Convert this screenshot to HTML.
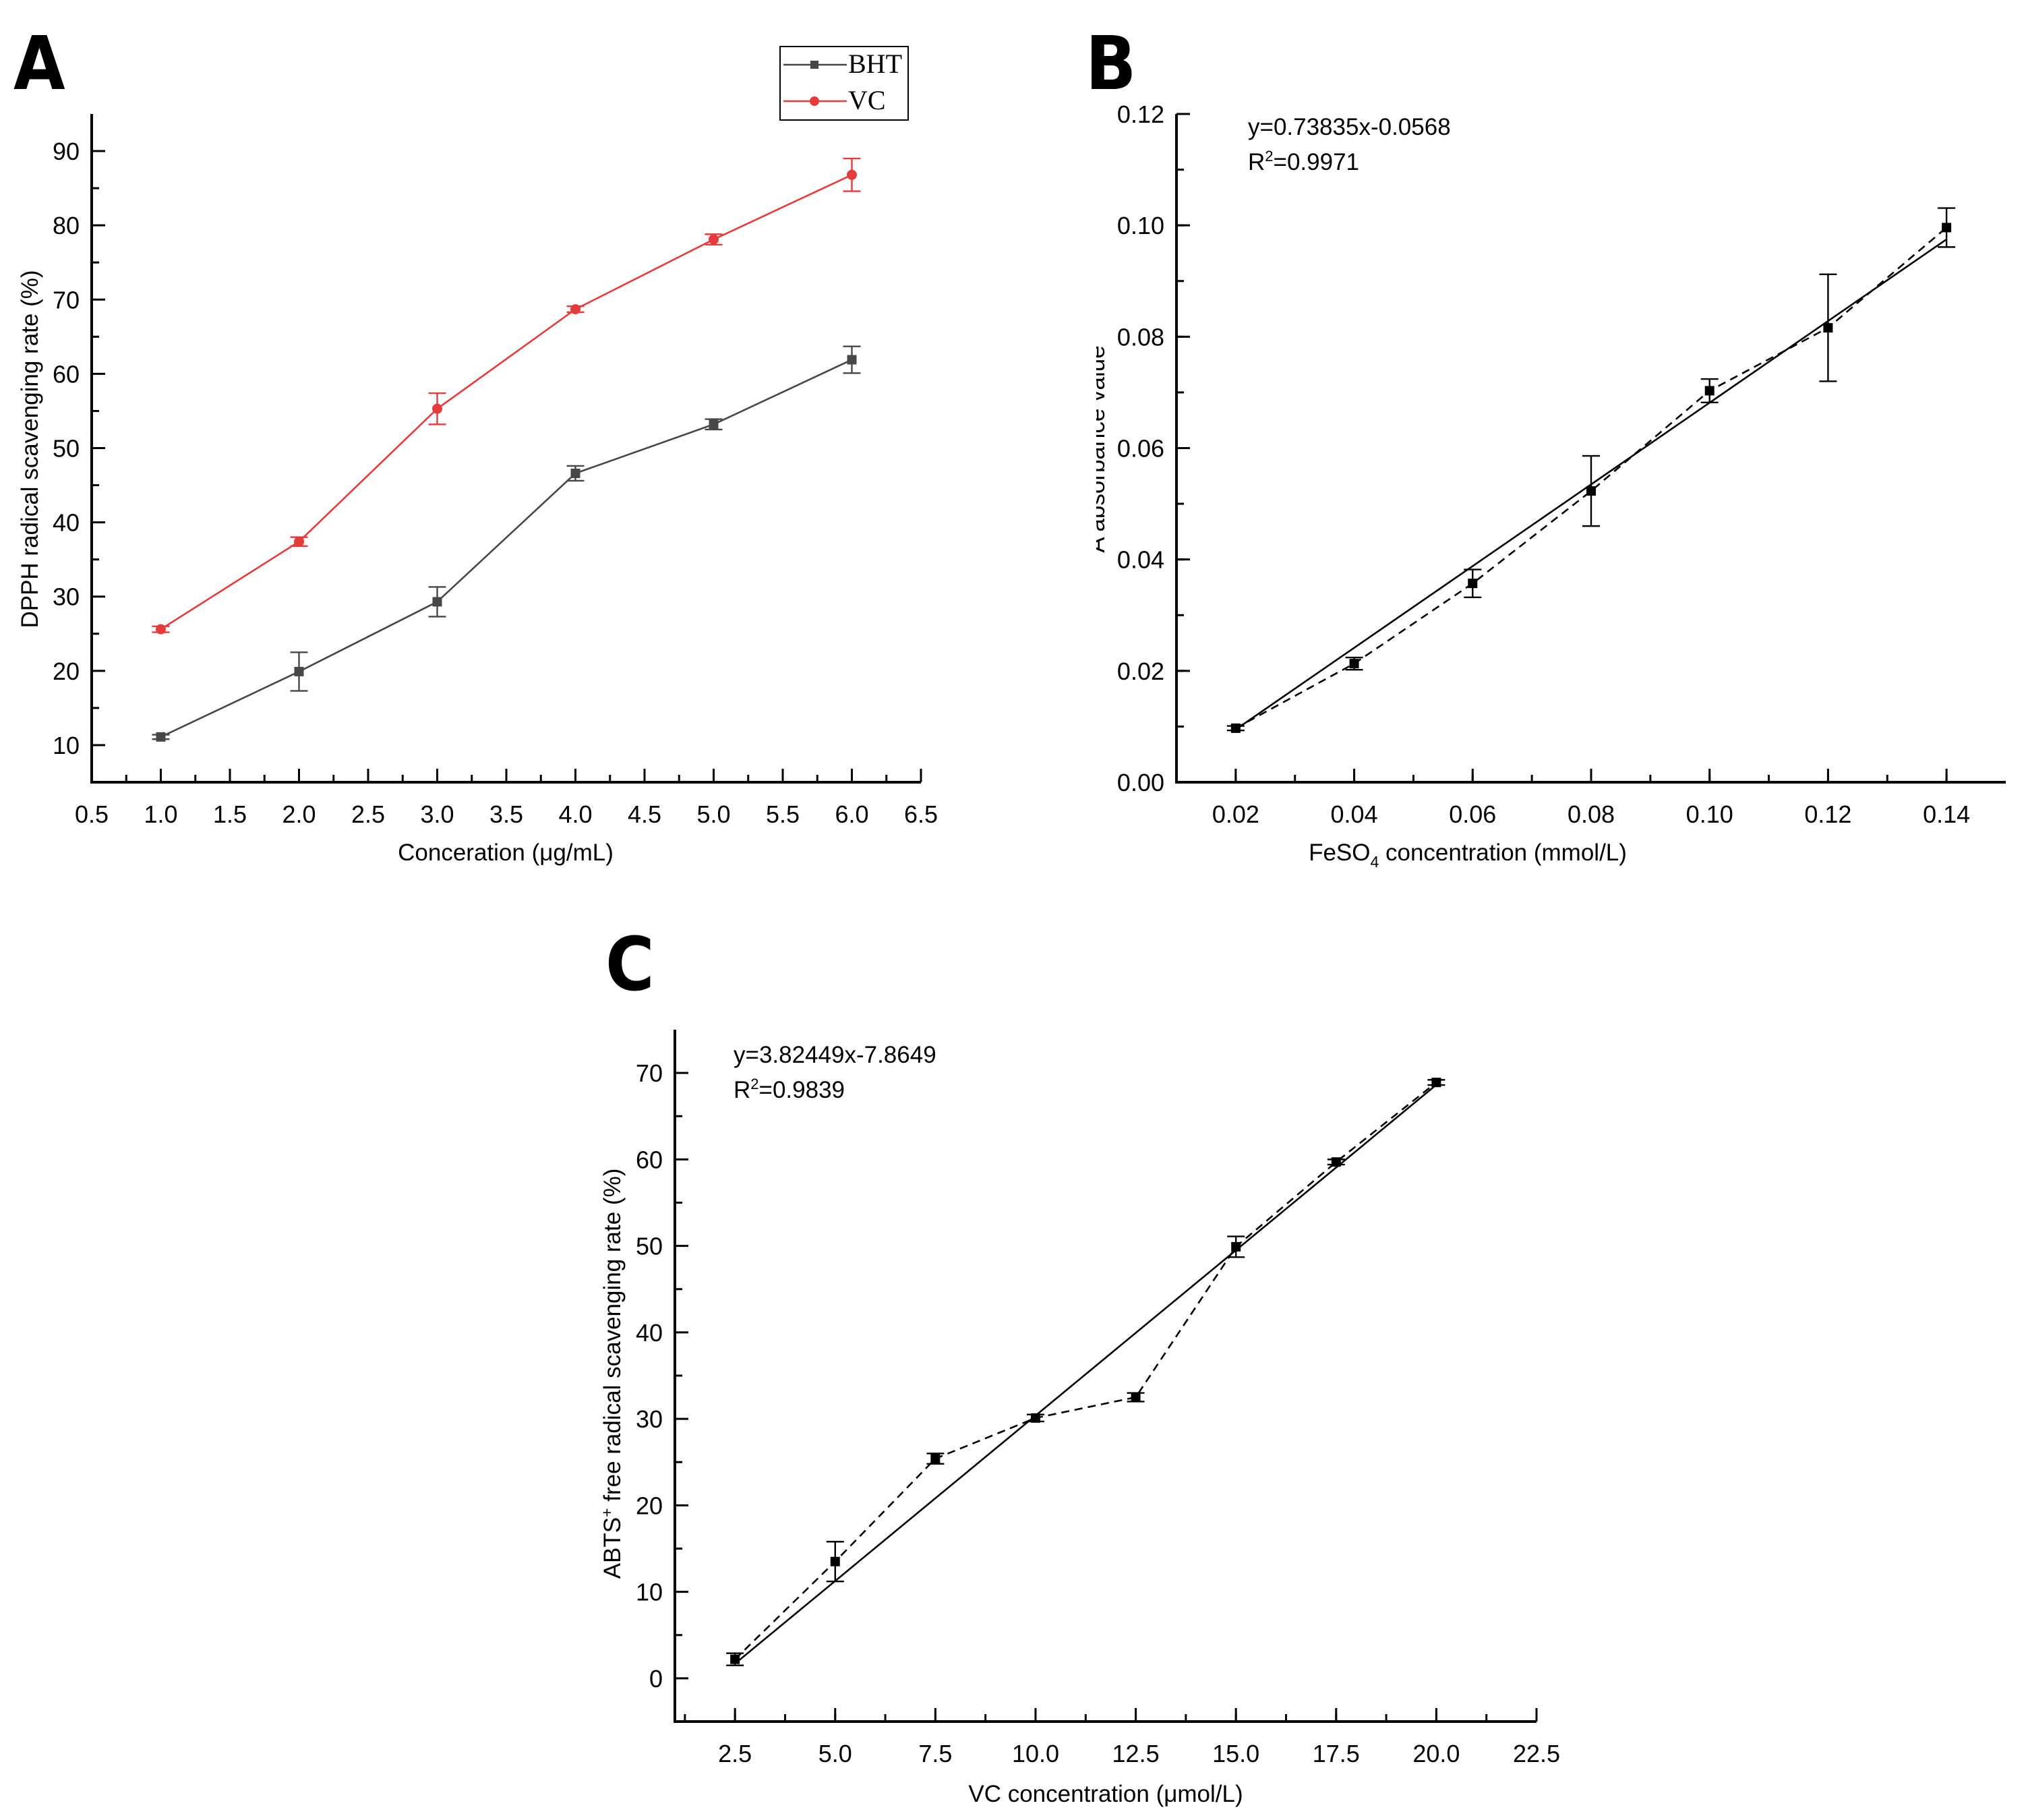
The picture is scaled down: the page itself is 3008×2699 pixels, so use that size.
<!DOCTYPE html>
<html><head><meta charset="utf-8"><style>
html,body{margin:0;padding:0;background:#fff}
svg{display:block}
text{font-family:"Liberation Sans",Arial,sans-serif}
</style></head><body>
<svg id="fig" xmlns="http://www.w3.org/2000/svg" width="3008" height="2699" viewBox="0 0 3008 2699">
<defs><clipPath id="clipB" clipPathUnits="userSpaceOnUse"><rect x="1626" y="400" width="100" height="600"/></clipPath></defs>
<text x="20" y="132" font-size="110" font-weight="bold" style="font-family:'DejaVu Sans Condensed','DejaVu Sans',sans-serif">A</text>
<text x="1610" y="132" font-size="110" font-weight="bold" style="font-family:'DejaVu Sans Condensed','DejaVu Sans',sans-serif">B</text>
<text x="898" y="1468" font-size="110" font-weight="bold" style="font-family:'DejaVu Sans Condensed','DejaVu Sans',sans-serif">C</text>
<g clip-path="url(#clipB)">
<text font-size="35" text-anchor="middle" transform="translate(1638,666) rotate(-90)">A absorbance value</text>
</g>
</svg>
<script>
// Panel A data
const aX = [1, 2, 3, 4, 5, 6];
const aBHT = [11.1, 19.9, 29.3, 46.6, 53.2, 61.9];
const aBHTErr = [0.3, 2.6, 2.0, 1.0, 0.7, 1.8];
const aVC = [25.6, 37.4, 55.3, 68.7, 78.1, 86.8];
const aVCErr = [0.4, 0.6, 2.1, 0.4, 0.7, 2.2];
const aXTicks = ["0.5","1.0","1.5","2.0","2.5","3.0","3.5","4.0","4.5","5.0","5.5","6.0","6.5"];
const aYTicks = ["10","20","30","40","50","60","70","80","90"];
// Panel B data
const bX = [0.02, 0.04, 0.06, 0.08, 0.10, 0.12, 0.14];
const bY = [0.0097, 0.0213, 0.0357, 0.0523, 0.0703, 0.0816, 0.0996];
const bErr = [0.0004, 0.0011, 0.0025, 0.0063, 0.0021, 0.0096, 0.0035];
const bFit = [0.7335, -0.0052];
const bXTicks = ["0.02","0.04","0.06","0.08","0.10","0.12","0.14"];
const bYTicks = ["0.00","0.02","0.04","0.06","0.08","0.10","0.12"];
// Panel C data
const cX = [2.5, 5, 7.5, 10, 12.5, 15, 17.5, 20];
const cY = [2.2, 13.5, 25.4, 30.1, 32.5, 49.9, 59.7, 68.9];
const cErr = [0.7, 2.3, 0.6, 0.4, 0.5, 1.2, 0.3, 0.3];
const cFit = [3.82449, -7.8649];
const cXTicks = ["2.5","5.0","7.5","10.0","12.5","15.0","17.5","20.0","22.5"];
const cYTicks = ["0","10","20","30","40","50","60","70"];

const NS = "http://www.w3.org/2000/svg";
const svg = document.getElementById('fig');
function mk(tag, attrs, parent) {
  const e = document.createElementNS(NS, tag);
  for (const k in attrs) e.setAttribute(k, attrs[k]);
  (parent || svg).appendChild(e);
  return e;
}
function axes(o) {
  const sx = v => o.x0 + (v - o.xmin) / (o.xmax - o.xmin) * (o.x1 - o.x0);
  const sy = v => o.y0 - (v - o.ymin) / (o.ymax - o.ymin) * (o.y0 - o.y1);
  const g = mk('g', {});
  
  
  const ya = mk('line', {x1:o.x0, y1:o.y0+2, x2:o.x0, y2:o.y1, stroke:'#000', 'stroke-width':4}, g);
  
  
  const xa = mk('line', {x1:o.x0-2, y1:o.y0, x2:o.x1, y2:o.y0, stroke:'#000', 'stroke-width':4}, g);
  
  
  o.xTicks.forEach(t => {
    const v = parseFloat(t), X = sx(v);
    mk('line', {x1:X, y1:o.y0, x2:X, y2:o.y0-20, stroke:'#000', 'stroke-width':3}, g);
    const tx = mk('text', {x:X, y:o.y0+60, 'font-size':36, 'text-anchor':'middle'}, g);
    tx.textContent = t;
    
    
  });
  for (let v = o.xmin + o.xminorOff; v < o.xmax; v += o.xminor) {
    mk('line', {x1:sx(v), y1:o.y0, x2:sx(v), y2:o.y0-11, stroke:'#000', 'stroke-width':3}, g);
  }
  o.yTicks.forEach(t => {
    const v = parseFloat(t), Y = sy(v);
    mk('line', {x1:o.x0, y1:Y, x2:o.x0+20, y2:Y, stroke:'#000', 'stroke-width':3}, g);
    const tx = mk('text', {x:o.x0-18, y:Y+13, 'font-size':36, 'text-anchor':'end'}, g);
    tx.textContent = t;
    
    
  });
  for (let v = o.ymin + o.yminorOff; v < o.ymax; v += o.yminor) {
    mk('line', {x1:o.x0, y1:sy(v), x2:o.x0+11, y2:sy(v), stroke:'#000', 'stroke-width':3}, g);
  }
  return {sx, sy};
}
function series(s, xs, ys, errs, color, marker, dash, name) {
  const g = mk('g', {});
  
  
  const pts = xs.map((x,i) => s.sx(x) + ',' + s.sy(ys[i])).join(' ');
  const pl = mk('polyline', {points:pts, fill:'none', stroke:color, 'stroke-width':2.6}, g);
  if (dash) pl.setAttribute('stroke-dasharray', '12,8');
  xs.forEach((x,i) => {
    const X = s.sx(x), Yt = s.sy(ys[i]+errs[i]), Yb = s.sy(ys[i]-errs[i]);
    mk('line', {x1:X, y1:Yt, x2:X, y2:Yb, stroke:color, 'stroke-width':2.4}, g);
    mk('line', {x1:X-13, y1:Yt, x2:X+13, y2:Yt, stroke:color, 'stroke-width':2.4}, g);
    mk('line', {x1:X-13, y1:Yb, x2:X+13, y2:Yb, stroke:color, 'stroke-width':2.4}, g);
    let m;
    if (marker === 'circle') m = mk('circle', {cx:X, cy:s.sy(ys[i]), r:7.5, fill:color}, g);
    else m = mk('rect', {x:X-7, y:s.sy(ys[i])-7, width:14, height:14, fill:color}, g);
    
    
  });
}
function fitLine(s, xs, fit, name) {
  const xa = xs[0], xb = xs[xs.length-1];
  const l = mk('line', {x1:s.sx(xa), y1:s.sy(fit[0]*xa+fit[1]), x2:s.sx(xb), y2:s.sy(fit[0]*xb+fit[1]), stroke:'#000', 'stroke-width':2.6});
  
  
}
function txt(x, y, size, str, name, attrs) {
  const t = mk('text', Object.assign({x:x, y:y, 'font-size':size}, attrs||{}));
  t.textContent = str;
  
  
  return t;
}

// Panel A
const sA = axes({name:'panel-a', x0:136, x1:1366, y0:1160, y1:169, xmin:0.5, xmax:6.5, ymin:5, ymax:95,
  xTicks:aXTicks, yTicks:aYTicks, xminor:0.5, xminorOff:0.25, yminor:10, yminorOff:10});
series(sA, aX, aBHT, aBHTErr, '#474747', 'square', false, 'bht-series');
series(sA, aX, aVC, aVCErr, '#e53b3b', 'circle', false, 'vc-series');
txt(750, 1276, 35, 'Conceration (μg/mL)', 'panel-a-x-axis-title', {'text-anchor':'middle'});
txt(0, 0, 35, 'DPPH radical scavenging rate (%)', 'panel-a-y-axis-title', {'text-anchor':'middle', transform:'translate(56,666) rotate(-90)'});
const lg = mk('g', {});


mk('rect', {x:1157, y:69, width:190, height:109, fill:'#fff', stroke:'#000', 'stroke-width':2}, lg);
mk('line', {x1:1162, y1:96, x2:1256, y2:96, stroke:'#474747', 'stroke-width':2.4}, lg);
mk('rect', {x:1202, y:90, width:12, height:12, fill:'#474747'}, lg);
mk('line', {x1:1162, y1:150, x2:1256, y2:150, stroke:'#e53b3b', 'stroke-width':2.4}, lg);
mk('circle', {cx:1208, cy:150, r:7, fill:'#e53b3b'}, lg);
const l1 = mk('text', {x:1258, y:108, 'font-size':40, style:"font-family:'Liberation Serif',serif"}, lg); l1.textContent = 'BHT';


const l2 = mk('text', {x:1258, y:162, 'font-size':40, style:"font-family:'Liberation Serif',serif"}, lg); l2.textContent = 'VC';



// Panel B
const sB = axes({name:'panel-b', x0:1745, x1:2975, y0:1160, y1:169, xmin:0.01, xmax:0.15, ymin:0, ymax:0.12,
  xTicks:bXTicks, yTicks:bYTicks, xminor:0.01, xminorOff:0.01, yminor:0.01, yminorOff:0.01});
fitLine(sB, bX, bFit, 'panel-b-fit-line');
series(sB, bX, bY, bErr, '#000', 'square', true, 'panel-b-series');
txt(1851, 200, 35, 'y=0.73835x-0.0568', 'panel-b-equation');
const rb = txt(1851, 252, 35, 'R', 'panel-b-r2');
const sup = mk('tspan', {dy:-13, 'font-size':22}, rb); sup.textContent = '2';
const rest = mk('tspan', {dy:13}, rb); rest.textContent = '=0.9971';
txt(2177, 1276, 35, 'FeSO', 'panel-b-x-axis-title', {'text-anchor':'middle'}).innerHTML = 'FeSO<tspan dy="10" font-size="23">4</tspan><tspan dy="-10"> concentration (mmol/L)</tspan>';

// Panel C
const sC = axes({name:'panel-c', x0:1001, x1:2279, y0:2553, y1:1527, xmin:1, xmax:22.5, ymin:-5, ymax:75,
  xTicks:cXTicks, yTicks:cYTicks, xminor:1.25, xminorOff:0.25, yminor:10, yminorOff:0});
fitLine(sC, cX, cFit, 'panel-c-fit-line');
series(sC, cX, cY, cErr, '#000', 'square', true, 'panel-c-series');
txt(1088, 1576, 35, 'y=3.82449x-7.8649', 'panel-c-equation');
const rc = txt(1088, 1628, 35, 'R', 'panel-c-r2');
const sup2 = mk('tspan', {dy:-13, 'font-size':22}, rc); sup2.textContent = '2';
const rest2 = mk('tspan', {dy:13}, rc); rest2.textContent = '=0.9839';
txt(1640, 2672, 35, 'VC concentration (μmol/L)', 'panel-c-x-axis-title', {'text-anchor':'middle'});
txt(0, 0, 35, '', 'panel-c-y-axis-title', {'text-anchor':'middle', transform:'translate(920,2037) rotate(-90)'}).innerHTML = 'ABTS<tspan dy="-12" font-size="23">+</tspan><tspan dy="12"> free radical scavenging rate (%)</tspan>';
</script>
</body></html>
